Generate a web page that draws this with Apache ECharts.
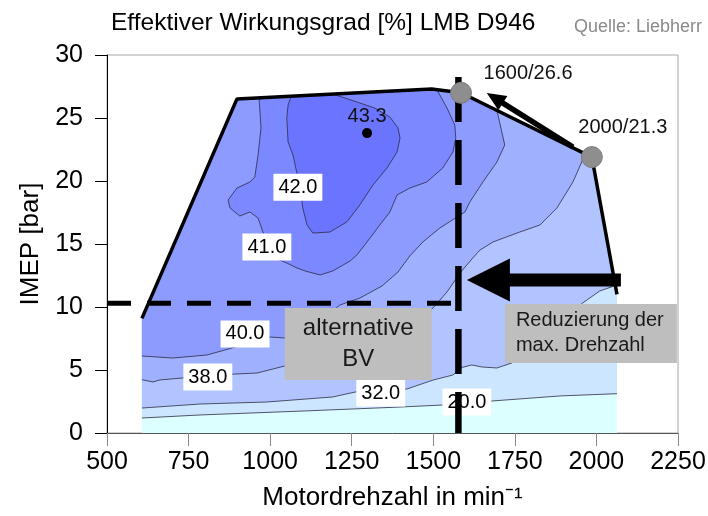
<!DOCTYPE html>
<html>
<head>
<meta charset="utf-8">
<title>Effektiver Wirkungsgrad LMB D946</title>
<script src="https://cdn.jsdelivr.net/npm/echarts@6/dist/echarts.min.js"></script>
<style>
  html, body { margin: 0; padding: 0; background: #fff; }
  #chart { width: 708px; height: 516px; }
</style>
</head>
<body>
<div id="chart"></div>
<script>
// Achsen
const rpmRange = [500, 2250];
const rpmStep = 250;
const imepRange = [0, 30];
const imepStep = 5;

// Kennfeldgrenze [Drehzahl, IMEP], links unten -> oben -> rechts unten
const outline = [[607, 0], [607, 9.1], [898, 26.5], [1495, 27.3], [1585, 27.0], [1986, 21.9], [2063, 11.0], [2063, 0]];

// Isolinien
const iso20 = [[607, 1.19], [785, 1.43], [1107, 1.75], [1398, 2.06], [1529, 2.22], [1680, 2.54], [1888, 2.94], [2063, 3.12]];
const iso32 = [[607, 1.98], [785, 2.30], [990, 2.46], [1192, 2.86], [1260, 3.25], [1419, 3.49], [1499, 4.2], [1560, 4.6],
  [1588, 5.2], [1618, 5.40], [1649, 5.24], [1695, 5.16], [1741, 5.56], [1827, 7.38], [1903, 9.13], [1958, 10.32],
  [2010, 11.27], [2058, 11.7]];
const iso38 = [[607, 4.23], [641, 4.05], [662, 4.21], [733, 4.37], [892, 4.68], [960, 4.76], [1045, 5.32], [1153, 5.79],
  [1275, 6.59], [1398, 7.94], [1499, 9.92], [1542, 11.19], [1582, 12.70], [1621, 13.89], [1643, 14.52], [1683, 15.16],
  [1765, 15.95], [1827, 16.51], [1879, 17.86], [1928, 19.92], [1955, 21.51], [1964, 22.2]];
const iso40 = [[607, 6.11], [702, 5.95], [806, 6.19], [862, 6.59], [999, 7.62], [1045, 7.54], [1122, 8.17], [1214, 10.16],
  [1275, 10.71], [1343, 11.67], [1392, 12.78], [1428, 14.05], [1468, 15.16], [1520, 16.27], [1597, 17.54], [1612, 18.33],
  [1652, 19.92], [1695, 21.51], [1719, 22.86], [1695, 25.6]];
const iso41 = [[966, 26.59], [972, 24.21], [963, 22.06], [953, 20.32], [938, 19.92], [898, 19.44], [871, 18.49], [877, 17.86],
  [907, 17.22], [938, 17.54], [963, 17.06], [978, 15.95], [990, 14.68], [1015, 13.89], [1051, 13.49], [1082, 13.10],
  [1107, 12.86], [1153, 12.54], [1192, 12.86], [1245, 13.65], [1266, 14.13], [1297, 15.16], [1336, 16.51], [1367, 17.54],
  [1389, 18.89], [1428, 19.44], [1480, 19.92], [1529, 21.03], [1560, 22.30], [1569, 23.41], [1566, 24.44], [1542, 25.79],
  [1511, 27.25]];
const iso42 = [[1064, 26.72], [1055, 26.03], [1051, 25.0], [1055, 23.1], [1070, 22.06], [1082, 20.63], [1091, 19.68],
  [1100, 17.86], [1113, 16.51], [1131, 15.87], [1183, 15.95], [1235, 16.75], [1275, 18.10], [1315, 19.68], [1358, 21.03],
  [1389, 22.30], [1398, 23.41], [1392, 24.21], [1367, 25.08], [1321, 25.79], [1275, 26.19], [1229, 26.59], [1192, 26.89]];

const isoLines = [iso20, iso32, iso38, iso40, iso41, iso42];
const isoLabels = ['20.0', '32.0', '38.0', '40.0', '41.0', '42.0'];
const isoLabelAt = [[1603, 2.46], [1339, 3.17], [809, 4.44], [923, 7.86], [990, 14.76], [1085, 19.5]];

// Bestpunkt
const bestPoint = [[1297, 23.8]];
const bestLabel = '43.3';
// Volllastpunkte
const fullLoadPoints = [[1585, 27.0], [1986, 21.9]];
const fullLoadLabels = ['1600/26.6', '2000/21.3'];
// Begrenzungen
const limitImep = [[500, 10.3], [1566, 10.3]];
const limitRpm = [[1577, 28.25], [1577, 0]];
// Pfeile [von Drehzahl, von IMEP, nach Drehzahl, nach IMEP]
const arrows = [[1928, 22.7, 1664, 26.98], [2075, 12.14, 1603, 12.14]];
// Hinweisboxen
const boxAt = [[1270, 7.06], [1983, 7.9]];
const boxText = ['alternative\nBV', 'Reduzierung der\nmax. Drehzahl'];

const FONT = '"Liberation Sans", Arial, sans-serif';
const bandColors = ['#dcffff', '#cce6ff', '#b1c4ff', '#9fb0ff', '#8d9bff', '#7c88ff', '#6b74ff'];

// Flächen: jede Isolinie wird über den oberen Rand der Kennfeldgrenze geschlossen
const topRev = outline.slice(1, 7).reverse();
const closeParts = [[0, 6], [1, 6], [2, 6], [2, 6], [3, 4], [0, 0]];
const bands = [outline].concat(isoLines.map((l, i) => l.concat(topRev.slice(closeParts[i][0], closeParts[i][1]))));

const arrowSize = [{ shaft: 5.5, headLen: 19, headW: 17 }, { shaft: 13, headLen: 43, headW: 43 }];
const boxSize = [
  { w: 147, h: 72, font: 24, lh: 31, align: 'center' },
  { w: 172, h: 59, font: 20, lh: 25, align: 'left' }
];
// Lage der Punktbeschriftungen relativ zum Punkt
const pointLabelShift = [{ dx: 67, dy: 2 }, { dx: 31, dy: -9 }];

let myChart = echarts.init(document.getElementById('chart'));

const series = [];
// farbige Bänder
series.push({
  type: 'custom',
  z: 1,
  silent: true,
  data: bands.map(b => b[0]),
  renderItem: (params, api) => ({
    type: 'polygon',
    shape: { points: bands[params.dataIndex].map(p => api.coord(p)) },
    style: { fill: bandColors[params.dataIndex] }
  })
});
// Isolinien
isoLines.forEach(l => {
  series.push({
    type: 'line',
    z: 2,
    silent: true,
    data: l,
    symbol: 'none',
    lineStyle: { color: '#2c2c44', width: 0.8 }
  });
});
// Beschriftung der Isolinien
series.push({
  type: 'custom',
  z: 3,
  silent: true,
  data: isoLabelAt,
  renderItem: (params, api) => {
    const c = api.coord([api.value(0), api.value(1)]);
    return {
      type: 'text',
      x: c[0],
      y: c[1],
      style: {
        text: isoLabels[params.dataIndex],
        font: '20px ' + FONT,
        fill: '#000',
        align: 'center',
        verticalAlign: 'middle',
        backgroundColor: '#fff',
        padding: [3, 5, 3, 5],
        lineHeight: 21
      }
    };
  }
});
// graue Hinweisboxen
series.push({
  type: 'custom',
  z: 4,
  silent: true,
  data: boxAt,
  renderItem: (params, api) => {
    const c = api.coord([api.value(0), api.value(1)]);
    const s = boxSize[params.dataIndex];
    const tx = s.align === 'center' ? c[0] : c[0] - s.w / 2 + 11;
    return {
      type: 'group',
      children: [
        { type: 'rect', shape: { x: c[0] - s.w / 2, y: c[1] - s.h / 2, width: s.w, height: s.h }, style: { fill: '#bebebe' } },
        {
          type: 'text', x: tx, y: c[1],
          style: {
            text: boxText[params.dataIndex], font: s.font + 'px ' + FONT, fill: '#1a1a1a',
            align: s.align, verticalAlign: 'middle', lineHeight: s.lh
          }
        }
      ]
    };
  }
});
// Kennfeldgrenze
series.push({
  type: 'line',
  z: 5,
  silent: true,
  data: outline.slice(1, 7),
  symbol: 'none',
  lineStyle: { color: '#000', width: 3.5 }
});
// gestrichelte Begrenzungen
series.push({
  type: 'line',
  z: 6,
  silent: true,
  data: limitImep,
  symbol: 'none',
  lineStyle: { color: '#000', width: 5, type: [24, 16], cap: 'butt' }
});
series.push({
  type: 'line',
  z: 6,
  silent: true,
  clip: false,
  data: limitRpm,
  symbol: 'none',
  lineStyle: { color: '#000', width: 6.5, type: [45, 18], cap: 'butt' }
});
// Pfeile
series.push({
  type: 'custom',
  z: 7,
  silent: true,
  data: arrows,
  encode: { x: [0, 2], y: [1, 3] },
  renderItem: (params, api) => {
    const a = api.coord([api.value(0), api.value(1)]);
    const b = api.coord([api.value(2), api.value(3)]);
    const s = arrowSize[params.dataIndex];
    const dx = b[0] - a[0], dy = b[1] - a[1];
    const len = Math.hypot(dx, dy);
    const ux = dx / len, uy = dy / len, nx = -uy, ny = ux;
    const hb = [b[0] - ux * s.headLen, b[1] - uy * s.headLen];
    const w = s.shaft / 2, hw = s.headW / 2;
    return {
      type: 'polygon',
      shape: {
        points: [
          [a[0] + nx * w, a[1] + ny * w],
          [hb[0] + nx * w, hb[1] + ny * w],
          [hb[0] + nx * hw, hb[1] + ny * hw],
          b,
          [hb[0] - nx * hw, hb[1] - ny * hw],
          [hb[0] - nx * w, hb[1] - ny * w],
          [a[0] - nx * w, a[1] - ny * w]
        ]
      },
      style: { fill: '#000' }
    };
  }
});
// Volllastpunkte
series.push({
  type: 'scatter',
  z: 8,
  silent: true,
  data: fullLoadPoints,
  symbolSize: 21,
  itemStyle: { color: '#8e8e8e', borderColor: '#7c7c7c', borderWidth: 1, opacity: 1 },
  label: {
    show: true,
    formatter: p => fullLoadLabels[p.dataIndex],
    position: 'top',
    distance: 0,
    fontSize: 20,
    fontFamily: FONT,
    color: '#111'
  },
  labelLayout: params => pointLabelShift[params.dataIndex]
});
// Bestpunkt
series.push({
  type: 'scatter',
  z: 8,
  silent: true,
  data: bestPoint,
  symbolSize: 10,
  itemStyle: { color: '#000', opacity: 1 },
  label: {
    show: true,
    formatter: bestLabel,
    position: 'top',
    distance: 2,
    fontSize: 20,
    fontFamily: FONT,
    color: '#111'
  }
});

myChart.setOption({
  animation: false,
  textStyle: { fontFamily: FONT },
  title: [
    {
      text: 'Effektiver Wirkungsgrad [%] LMB D946',
      left: 106,
      top: 6,
      textStyle: { fontSize: 24.5, fontWeight: 'normal', color: '#000', fontFamily: FONT }
    },
    {
      text: 'Quelle: Liebherr',
      right: 1,
      top: 13,
      textStyle: { fontSize: 18, fontWeight: 'normal', color: '#8a8a8a', fontFamily: FONT }
    }
  ],
  grid: {
    left: 107,
    right: 30,
    top: 55,
    bottom: 83,
    show: true,
    borderColor: '#a6a6a6',
    borderWidth: 1,
    outerBoundsMode: 'none'
  },
  xAxis: {
    type: 'value',
    min: rpmRange[0],
    max: rpmRange[1],
    interval: rpmStep,
    name: 'Motordrehzahl in min⁻¹',
    nameLocation: 'middle',
    nameGap: 52,
    nameTextStyle: { fontSize: 26, color: '#000', fontFamily: FONT },
    axisLine: { show: true, lineStyle: { color: '#555', width: 1 } },
    axisTick: { show: true, length: 13, lineStyle: { color: '#8a8a8a', width: 1 } },
    axisLabel: { fontSize: 25, color: '#000', margin: 17, fontFamily: FONT, formatter: v => String(v) },
    splitLine: { show: false }
  },
  yAxis: {
    type: 'value',
    min: imepRange[0],
    max: imepRange[1],
    interval: imepStep,
    name: 'IMEP [bar]',
    nameLocation: 'middle',
    nameGap: 62,
    nameTextStyle: { fontSize: 26, color: '#000', fontFamily: FONT },
    axisLine: { show: true, lineStyle: { color: '#000', width: 1 } },
    axisTick: { show: true, length: 12, lineStyle: { color: '#000', width: 1 } },
    axisLabel: { fontSize: 25, color: '#000', margin: 24, fontFamily: FONT, formatter: v => String(v) },
    splitLine: { show: false }
  },
  series: series
});

window.onresize = function () {
  myChart.resize();
};
</script>
</body>
</html>
